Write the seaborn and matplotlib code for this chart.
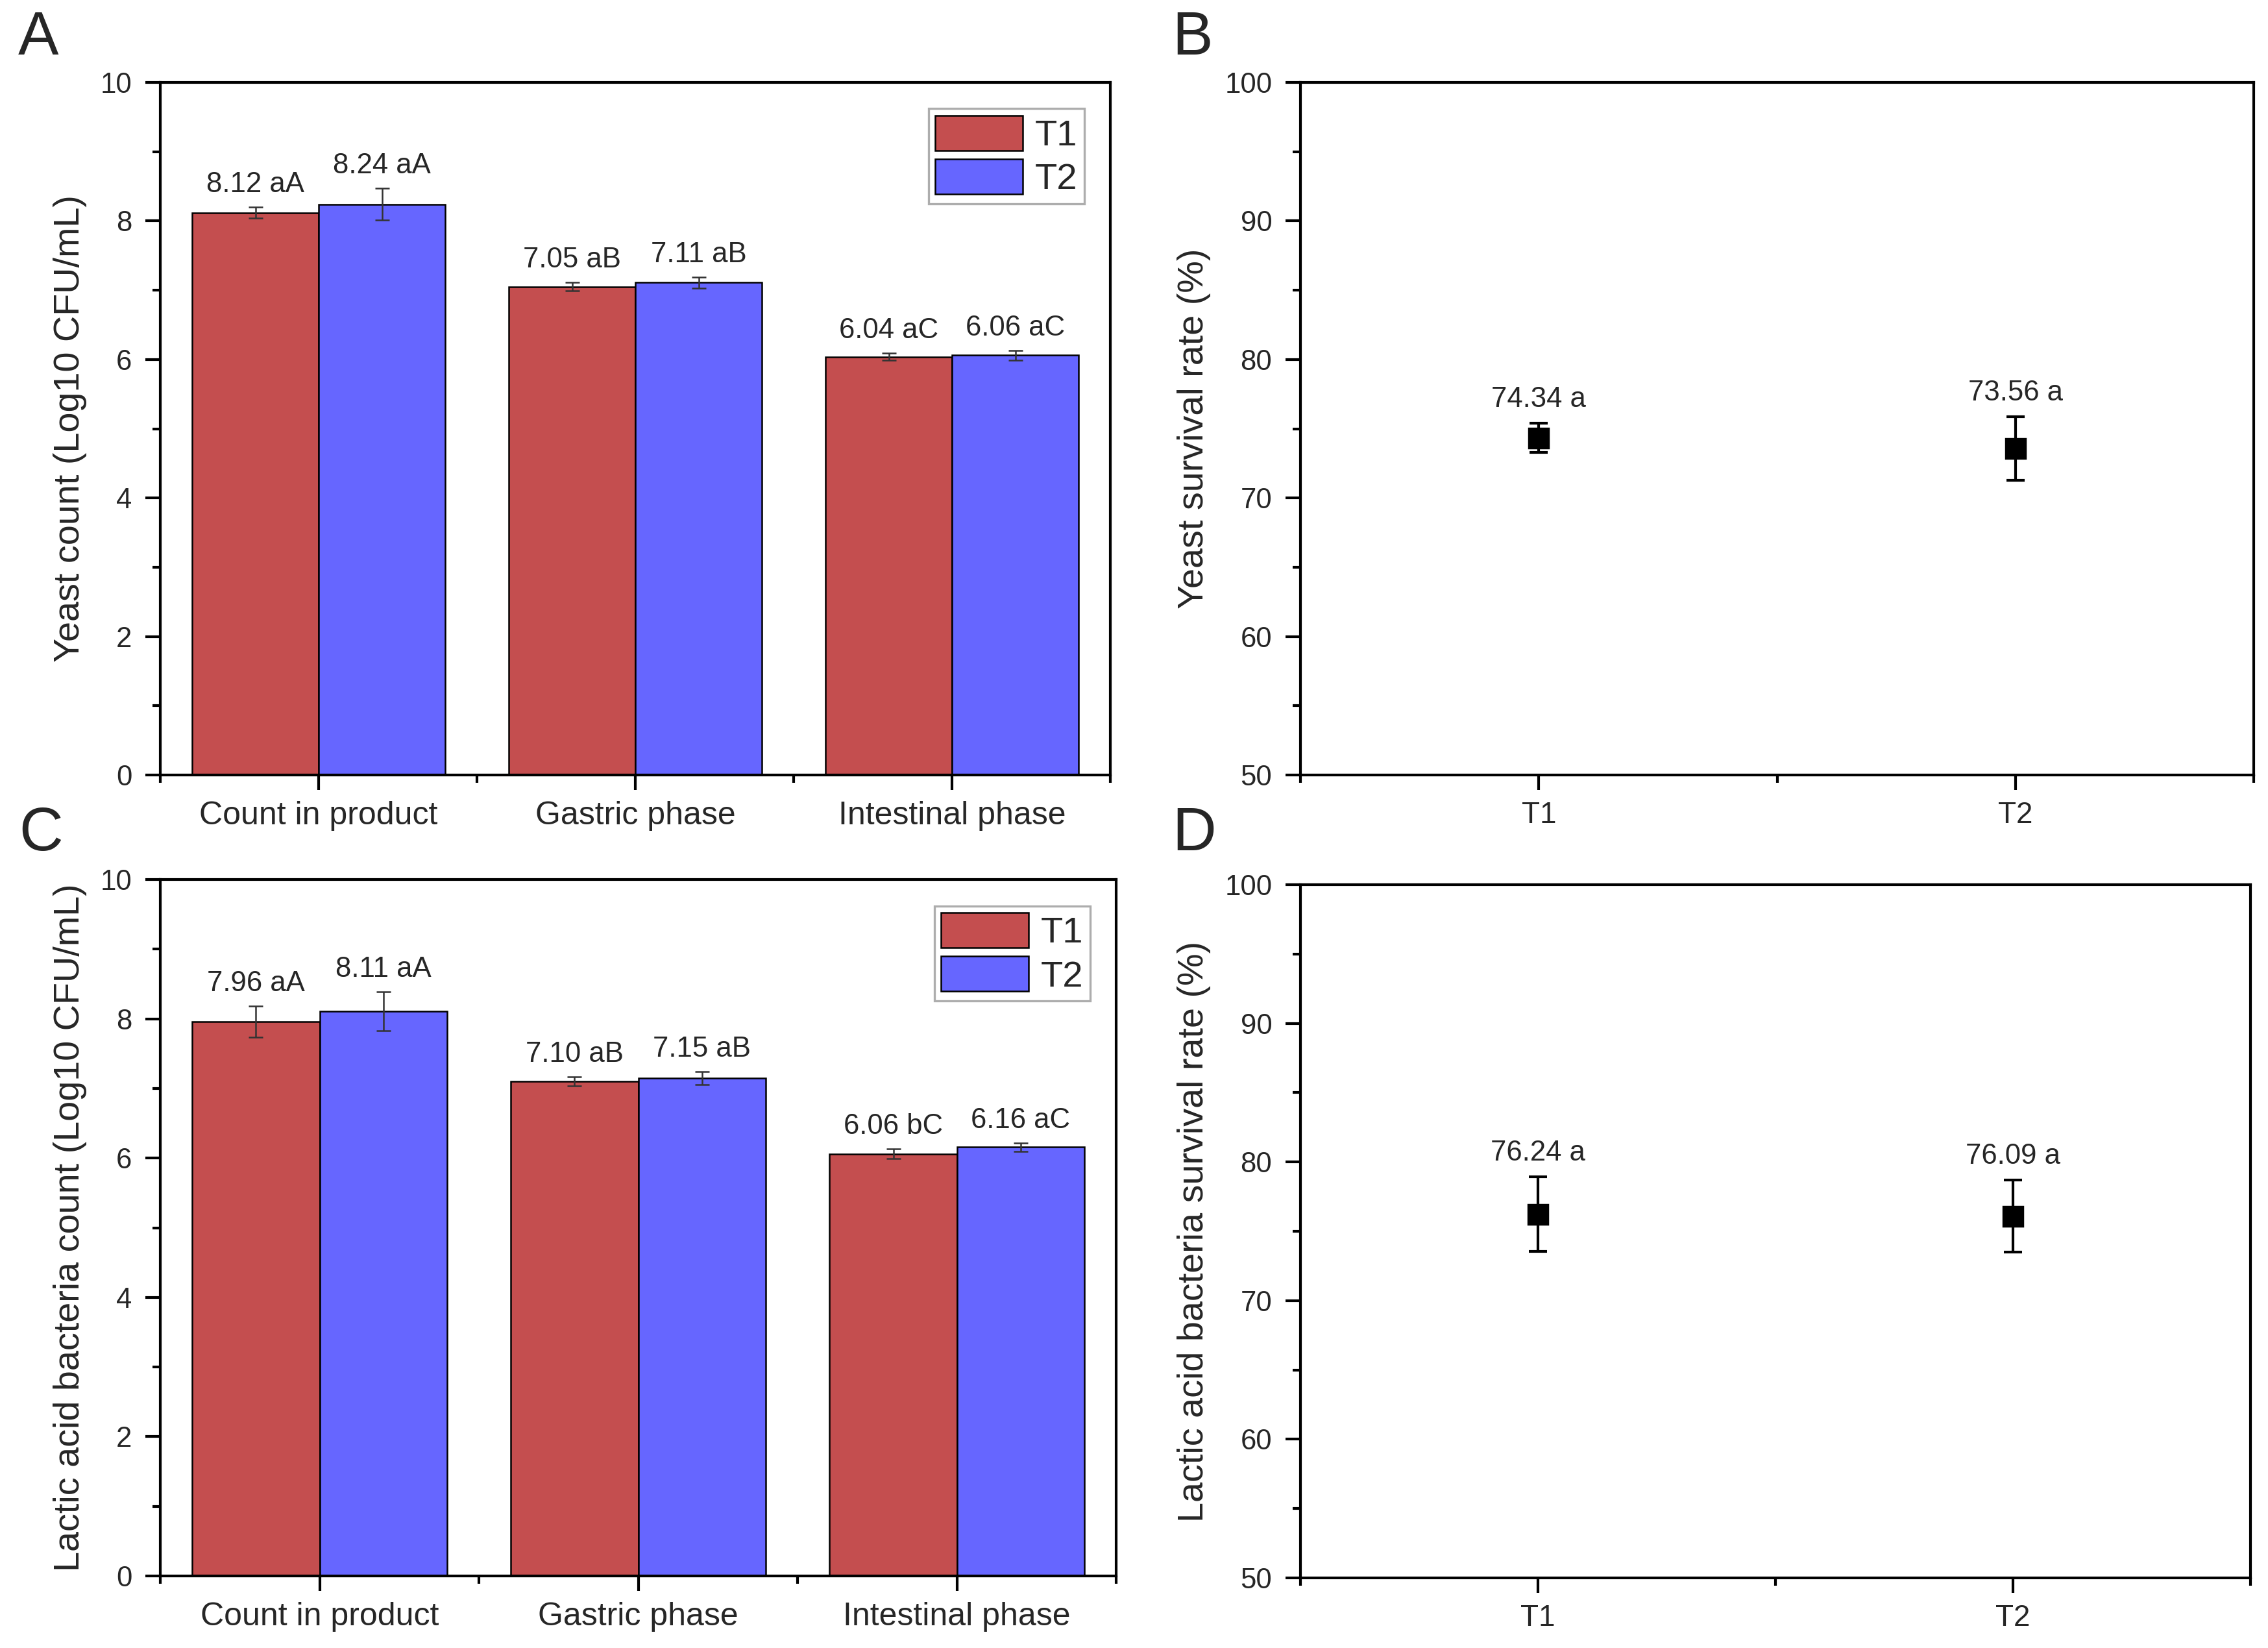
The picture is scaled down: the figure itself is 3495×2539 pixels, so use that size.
import numpy as np
import pandas as pd
import matplotlib
matplotlib.use("Agg")
import matplotlib.pyplot as plt
import seaborn as sns
from matplotlib.ticker import MultipleLocator, FixedLocator

sns.set_theme(style="ticks")
plt.rcParams["font.family"] = ["Liberation Sans", "DejaVu Sans"]

# data
phases = ["Count in product", "Gastric phase", "Intestinal phase"]
groups = ["T1", "T2"]

yeast_t1 = [8.12, 7.05, 6.04]
yeast_t2 = [8.24, 7.11, 6.06]
yeast_t1_err = [0.08, 0.06, 0.05]
yeast_t2_err = [0.23, 0.08, 0.07]
yeast_t1_sig = ["aA", "aB", "aC"]
yeast_t2_sig = ["aA", "aB", "aC"]

lab_t1 = [7.96, 7.10, 6.06]
lab_t2 = [8.11, 7.15, 6.16]
lab_t1_err = [0.22, 0.065, 0.07]
lab_t2_err = [0.28, 0.095, 0.06]
lab_t1_sig = ["aA", "aB", "bC"]
lab_t2_sig = ["aA", "aB", "aC"]

yeast_surv = [74.34, 73.56]
yeast_surv_err = [1.05, 2.3]
lab_surv = [76.24, 76.09]
lab_surv_err = [2.7, 2.6]
surv_sig = ["a", "a"]

colors = {"T1": "#C44E4F", "T2": "#6666FF"}

fig = plt.figure(figsize=(3495 / 300, 2539 / 300), dpi=300)
axA = fig.add_axes([0.0707, 0.5297, 0.4189, 0.4203])
axB = fig.add_axes([0.5734, 0.5297, 0.4203, 0.4203])
axC = fig.add_axes([0.0707, 0.0437, 0.4215, 0.4226])
axD = fig.add_axes([0.5734, 0.0425, 0.4189, 0.4207])


def style_axes(ax, xsize):
    for sp in ax.spines.values():
        sp.set_visible(True)
        sp.set_linewidth(1.0)
        sp.set_color("black")
    ax.tick_params(which="major", direction="out", length=5.5, width=1.0,
                   color="black", top=False, right=False)
    ax.tick_params(which="minor", direction="out", length=2.9, width=1.0,
                   color="black", top=False, right=False)
    ax.tick_params(axis="y", labelsize=10.5, pad=5)
    ax.tick_params(axis="x", labelsize=xsize, pad=4)


def bar_panel(ax, t1, t2, e1, e2, s1, s2, ylabel):
    df = pd.DataFrame({
        "phase": phases * 2,
        "group": ["T1"] * 3 + ["T2"] * 3,
        "value": t1 + t2,
    })
    sns.barplot(data=df, x="phase", y="value", hue="group", palette=colors,
                errorbar=None, width=0.8, edgecolor="black", linewidth=0.6,
                saturation=1, ax=ax)
    for cont, errs, sigs in zip(ax.containers, [e1, e2], [s1, s2]):
        xs = [b.get_x() + b.get_width() / 2 for b in cont]
        hs = [b.get_height() for b in cont]
        ax.errorbar(xs, hs, yerr=errs, fmt="none", ecolor="#333333",
                    elinewidth=0.6, capsize=2.6, capthick=0.6)
        for x, h, e, s in zip(xs, hs, errs, sigs):
            ax.annotate(f"{h:.2f} {s}", (x, h + e), xytext=(0, 5.5),
                        textcoords="offset points", ha="center",
                        va="baseline", fontsize=10.5)
    ax.set_ylim(0, 10)
    ax.set_xlim(-0.5, 2.5)
    ax.yaxis.set_major_locator(MultipleLocator(2))
    ax.yaxis.set_minor_locator(MultipleLocator(1))
    ax.xaxis.set_minor_locator(FixedLocator([-0.5, 0.5, 1.5, 2.5]))
    ax.set_xlabel("")
    ax.set_ylabel(ylabel, fontsize=13.4, labelpad=5)
    handles, labels = ax.get_legend_handles_labels()
    leg = ax.legend(handles, labels, loc="upper right", fontsize=13.5,
                    frameon=True, fancybox=False, edgecolor="#999999",
                    handlelength=2.4, handleheight=1.1, labelspacing=0.17,
                    handletextpad=0.33, borderpad=0.18, borderaxespad=0.72)
    leg.get_frame().set_linewidth(0.8)
    style_axes(ax, 12)


def surv_panel(ax, vals, errs, ylabel):
    sns.pointplot(x=groups, y=vals, linestyle="none", markers="s",
                  color="black", markersize=6, errorbar=None, ax=ax)
    xs = ax.lines[0].get_xdata()
    ax.errorbar(xs, vals, yerr=errs, fmt="none", ecolor="black",
                elinewidth=1.0, capsize=3.4, capthick=1.0, zorder=1)
    for x, v, e, s in zip(xs, vals, errs, surv_sig):
        ax.annotate(f"{v:.2f} {s}", (x, v + e), xytext=(0, 6),
                    textcoords="offset points", ha="center",
                    va="baseline", fontsize=10.5)
    ax.set_ylim(50, 100)
    ax.set_xlim(-0.5, 1.5)
    ax.yaxis.set_major_locator(MultipleLocator(10))
    ax.yaxis.set_minor_locator(MultipleLocator(5))
    ax.xaxis.set_minor_locator(FixedLocator([-0.5, 0.5, 1.5]))
    ax.set_xlabel("")
    ax.set_ylabel(ylabel, fontsize=13.4, labelpad=5)
    style_axes(ax, 11)


bar_panel(axA, yeast_t1, yeast_t2, yeast_t1_err, yeast_t2_err,
          yeast_t1_sig, yeast_t2_sig, "Yeast count (Log10 CFU/mL)")
bar_panel(axC, lab_t1, lab_t2, lab_t1_err, lab_t2_err,
          lab_t1_sig, lab_t2_sig, "Lactic acid bacteria count (Log10 CFU/mL)")
surv_panel(axB, yeast_surv, yeast_surv_err, "Yeast survival rate (%)")
surv_panel(axD, lab_surv, lab_surv_err, "Lactic acid bacteria survival rate (%)")

# panel letters
for letter, x, y in [("A", 28, 84), ("B", 1806, 84), ("C", 29, 1310), ("D", 1806, 1310)]:
    fig.text(x / 3495, 1 - y / 2539, letter, fontsize=22.5, ha="left", va="baseline")

fig.savefig("out.png", dpi=300)
